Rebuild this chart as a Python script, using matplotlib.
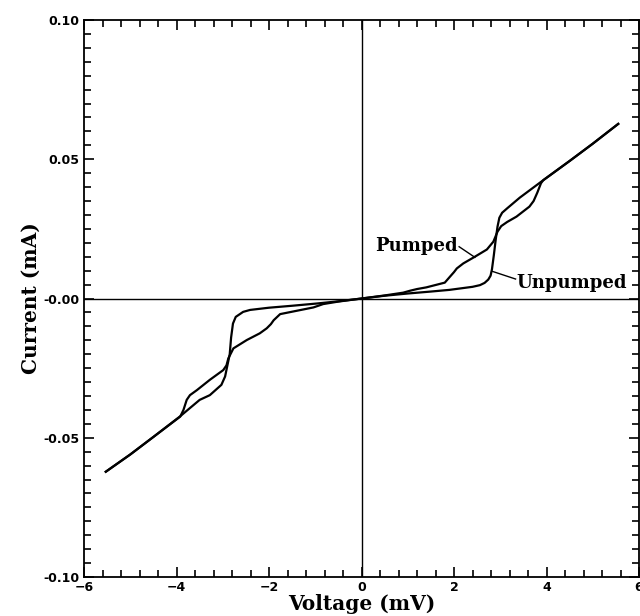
import numpy as np
import matplotlib.pyplot as plt
from matplotlib.ticker import MultipleLocator, FuncFormatter

# datos (V en mV, I en mA)
v_unpumped = [-5.53, -5.0, -4.5, -3.93, -3.50, -3.28, -3.03, -2.95, -2.90, -2.85,
              -2.82, -2.78, -2.72, -2.56, -2.41, -2.0, -1.5, -0.97, -0.5, 0.0,
              0.5, 1.0, 1.5, 1.9, 2.4, 2.56, 2.66, 2.74, 2.79, 2.82, 2.86, 2.90,
              2.94, 2.98, 3.04, 3.15, 3.42, 3.93, 4.5, 5.0, 5.55]
i_unpumped = [-0.0622, -0.0560, -0.0497, -0.0424, -0.0364, -0.0347, -0.0310, -0.0280,
              -0.0240, -0.0200, -0.0140, -0.0090, -0.0066, -0.0048, -0.0041, -0.0033,
              -0.0026, -0.0018, -0.0010, 0.0,
              0.0010, 0.0018, 0.0025, 0.0031, 0.0042, 0.0048, 0.0056, 0.0068, 0.0082,
              0.0105, 0.0155, 0.0210, 0.0258, 0.0290, 0.0308, 0.0324, 0.0362, 0.0425,
              0.0494, 0.0556, 0.0627]

v_pumped = [-5.53, -5.0, -4.5, -3.92, -3.85, -3.78, -3.71, -3.56, -3.28, -2.99,
            -2.92, -2.88, -2.77, -2.48, -2.20, -2.05, -1.96, -1.90, -1.76, -1.40,
            -1.04, -0.83, -0.5, 0.0, 0.5, 0.9, 1.05, 1.2, 1.4, 1.8, 1.91, 2.0, 2.06,
            2.2, 2.45, 2.71, 2.85, 2.94, 3.02, 3.15, 3.35, 3.63, 3.72, 3.80, 3.88,
            3.93, 4.5, 5.0, 5.55]
i_pumped = [-0.0622, -0.0560, -0.0497, -0.0424, -0.0400, -0.0364, -0.0347, -0.0329,
            -0.0292, -0.0257, -0.0240, -0.0215, -0.0179, -0.0149, -0.0125, -0.0107,
            -0.0092, -0.0078, -0.0056, -0.0044, -0.0032, -0.0020, -0.0011, 0.0,
            0.0011, 0.0021, 0.0028, 0.0034, 0.0040, 0.0057, 0.0078, 0.0095, 0.0108,
            0.0126, 0.0150, 0.0176, 0.0204, 0.0240, 0.0260, 0.0275, 0.0294, 0.0330,
            0.0350, 0.0380, 0.0414, 0.0425, 0.0494, 0.0556, 0.0627]

xticks = [-6, -4, -2, 0, 2, 4, 6]
yticks = [-0.10, -0.05, 0.0, 0.05, 0.10]

fig = plt.figure(figsize=(6.4, 6.16), dpi=100)
ax = fig.add_axes([0.1313, 0.0633, 0.8672, 0.9042])

ax.axhline(0, color='black', lw=1.0, zorder=1)
ax.axvline(0, color='black', lw=1.0, zorder=1)

ax.plot(v_unpumped, i_unpumped, color='black', lw=1.6)
ax.plot(v_pumped, i_pumped, color='black', lw=1.6)

ax.set_xlim(-6, 6)
ax.set_ylim(-0.10, 0.10)
ax.set_xticks(xticks)
ax.set_yticks(yticks)
ax.xaxis.set_minor_locator(MultipleLocator(0.4))
ax.yaxis.set_minor_locator(MultipleLocator(0.005))
ax.yaxis.set_major_formatter(FuncFormatter(lambda y, p: '-0.00' if abs(y) < 1e-9 else f'{y:.2f}'))

ax.tick_params(which='both', direction='in', top=True, right=True, width=1.2,
               labeltop=False, labelright=False)
ax.tick_params(which='major', length=7, pad=3)
ax.tick_params(which='minor', length=5)
for lab in ax.get_xticklabels() + ax.get_yticklabels():
    lab.set_fontweight('bold')
    lab.set_fontsize(9)
for s in ax.spines.values():
    s.set_linewidth(1.3)

ax.set_xlabel('Voltage (mV)', family='DejaVu Serif', fontweight='bold', fontsize=14.5, labelpad=0)
ax.set_ylabel('Current (mA)', family='DejaVu Serif', fontweight='bold', fontsize=14.5, labelpad=2)

# etiquetas de las curvas
ax.text(2.09, 0.0188, 'Pumped', family='DejaVu Serif', fontweight='bold', fontsize=13,
        ha='right', va='center')
ax.plot([2.11, 2.45], [0.0186, 0.0148], color='black', lw=1.0)
ax.text(3.35, 0.0055, 'Unpumped', family='DejaVu Serif', fontweight='bold', fontsize=13,
        ha='left', va='center')
ax.plot([3.33, 2.82], [0.0070, 0.0098], color='black', lw=1.0)

fig.savefig('out.png', dpi=100)
